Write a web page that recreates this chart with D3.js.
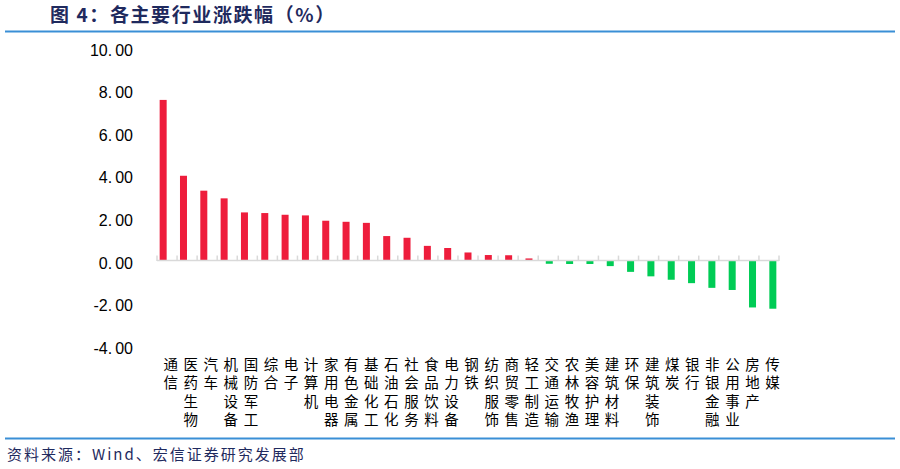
<!DOCTYPE html>
<html>
<head>
<meta charset="utf-8">
<script src="https://cdn.jsdelivr.net/npm/d3@7/dist/d3.min.js"></script>
<style>
  body { margin: 0; background: #fff; }
  svg { display: block; }
</style>
</head>
<body>
<div id="chart"></div>
<script>
// industries, sorted by change
const categories = ["通信", "医药生物", "汽车", "机械设备", "国防军工", "综合", "电子", "计算机",
  "家用电器", "有色金属", "基础化工", "石油石化", "社会服务", "食品饮料", "电力设备", "钢铁",
  "纺织服饰", "商贸零售", "轻工制造", "交通运输", "农林牧渔", "美容护理", "建筑材料", "环保",
  "建筑装饰", "煤炭", "银行", "非银金融", "公用事业", "房地产", "传媒"];
const changes = [7.54, 3.98, 3.28, 2.92, 2.26, 2.23, 2.15, 2.12, 1.87, 1.82, 1.77, 1.15, 1.07,
  0.69, 0.59, 0.38, 0.26, 0.25, 0.10, -0.15, -0.16, -0.16, -0.26, -0.53, -0.74, -0.90, -1.06,
  -1.28, -1.38, -2.20, -2.26];
const yTicks = [10, 8, 6, 4, 2, 0, -2, -4];

const width = 900, height = 469;
const navy = "#1f2a5e";

const svg = d3.select("#chart").append("svg")
  .attr("width", width)
  .attr("height", height);

// title + rules
svg.append("text")
  .attr("x", 50).attr("y", 22)
  .attr("font-family", "'Noto Sans CJK SC'")
  .attr("font-size", 19).attr("font-weight", "bold")
  .attr("letter-spacing", 1.6)
  .attr("fill", navy)
  .text("图 4：各主要行业涨跌幅（%）");
svg.append("line")
  .attr("x1", 5).attr("x2", 895).attr("y1", 31.5).attr("y2", 31.5)
  .attr("stroke", "#3a8fd6").attr("stroke-width", 2);
svg.append("line")
  .attr("x1", 5).attr("x2", 895).attr("y1", 438.5).attr("y2", 438.5)
  .attr("stroke", "#3a8fd6").attr("stroke-width", 2);
svg.append("text")
  .attr("x", 7).attr("y", 460)
  .attr("font-family", "'Noto Sans CJK SC'")
  .attr("font-size", 15)
  .attr("letter-spacing", 2)
  .attr("fill", navy)
  .text("资料来源：Wind、宏信证券研究发展部");

// scales
const y = d3.scaleLinear().domain([-4, 10]).range([345.8, 47.5]);
const x = d3.scaleBand().domain(categories).range([157, 779]).padding(0);   // axis ticks
const xBar = d3.scaleBand().domain(categories).range([153, 783]).padding(0); // bars sit a bit wider
const barW = 7;

// y axis labels only (small gap after the decimal point like the original)
const yLab = svg.append("g")
  .selectAll("text")
  .data(yTicks)
  .join("text")
  .attr("x", 133)
  .attr("y", d => y(d) + 2.5)
  .attr("dy", "0.35em")
  .attr("text-anchor", "end")
  .attr("font-family", "'Liberation Sans', Arial, sans-serif")
  .attr("font-size", 16)
  .attr("fill", "#000");
yLab.append("tspan").text(d => d3.format(".2f")(d).replace("−", "-").split(".")[0] + ".");
yLab.append("tspan").attr("dx", 3).text(d => d3.format(".2f")(d).split(".")[1]);

// bars
svg.append("g")
  .selectAll("rect")
  .data(categories)
  .join("rect")
  .attr("x", (d, i) => xBar(d) + (xBar.bandwidth() - barW) / 2)
  .attr("y", (d, i) => changes[i] >= 0 ? y(changes[i]) : y(0))
  .attr("width", barW)
  .attr("height", (d, i) => Math.abs(y(changes[i]) - y(0)))
  .attr("fill", (d, i) => changes[i] >= 0 ? "#ee1d3c" : "#00cc55");

// x axis line with inside ticks at category boundaries
const axis = svg.append("g").attr("transform", `translate(0,${y(0)})`);
axis.append("line")
  .attr("x1", 157).attr("x2", 779)
  .attr("stroke", "#d9d9d9").attr("stroke-width", 1.5);
axis.selectAll("line.tick")
  .data(categories.concat(["end"]))
  .join("line")
  .attr("class", "tick")
  .attr("x1", (d, i) => i < categories.length ? x(d) : x.range()[1])
  .attr("x2", (d, i) => i < categories.length ? x(d) : x.range()[1])
  .attr("y1", -5).attr("y2", 0.5)
  .attr("stroke", "#d9d9d9").attr("stroke-width", 1.5);

// category labels, one char per line
const labels = svg.append("g")
  .selectAll("text")
  .data(categories)
  .join("text")
  .attr("text-anchor", "middle")
  .attr("font-family", "'Noto Sans CJK SC'")
  .attr("font-size", 14.5)
  .attr("fill", "#000");
labels.selectAll("tspan")
  .data(d => Array.from(d).map(c => ({ c, cat: d })))
  .join("tspan")
  .attr("x", d => x(d.cat) + x.bandwidth() / 2 + 3.6)
  .attr("y", (d, j) => 370 + j * 18.4)
  .text(d => d.c);
</script>
</body>
</html>
